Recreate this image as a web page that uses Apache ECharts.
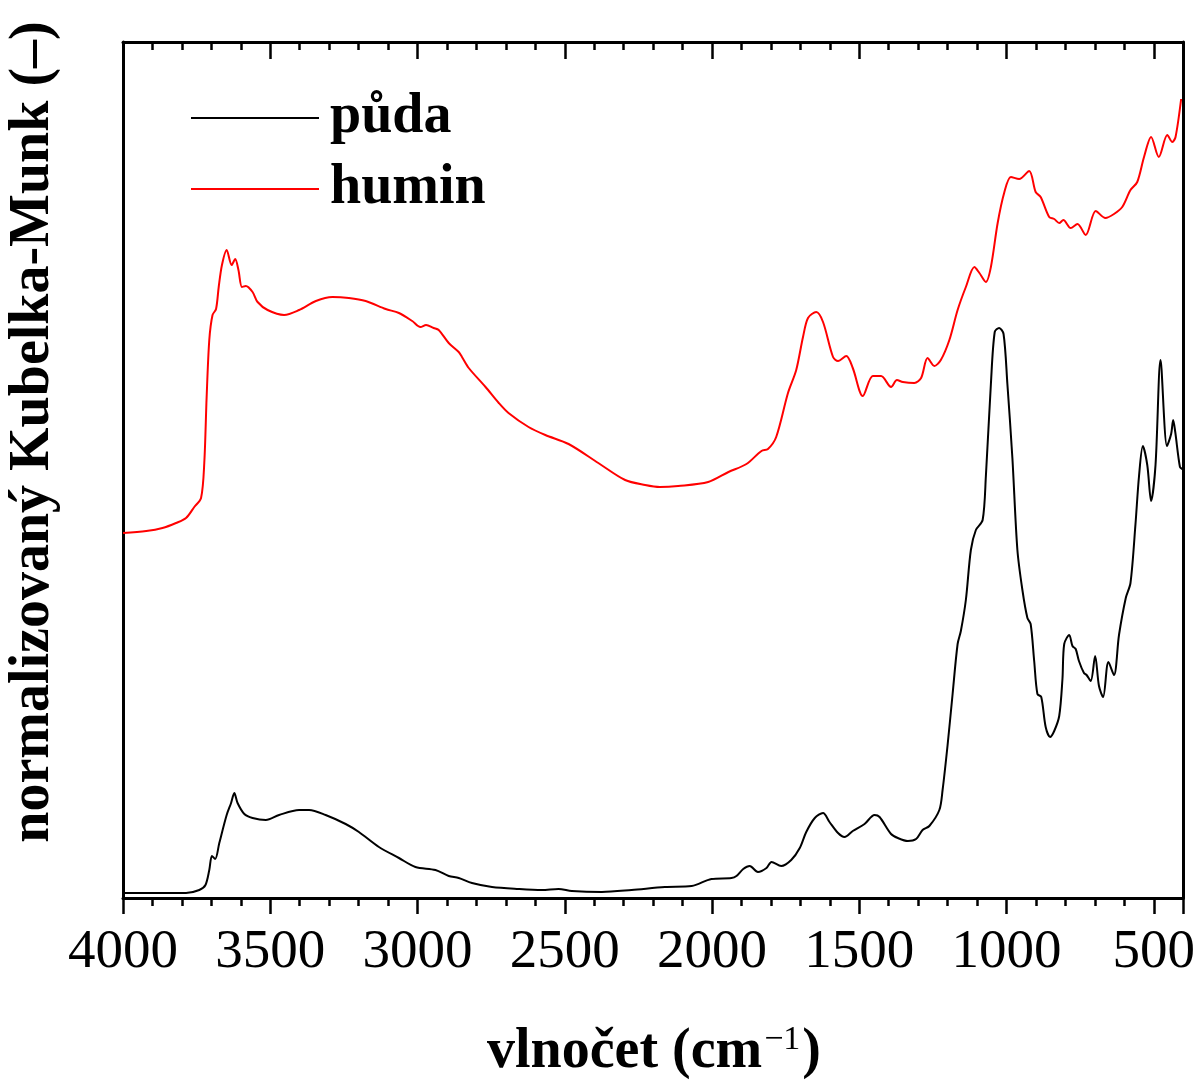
<!DOCTYPE html>
<html>
<head>
<meta charset="utf-8">
<script src="https://cdn.jsdelivr.net/npm/echarts@6/dist/echarts.min.js"></script>
<style>
html,body{margin:0;padding:0;background:#fff;}
#chart{width:1198px;height:1082px;}
</style>
</head>
<body>
<div id="chart"></div>
<script>
// wavenumbers (cm^-1) and normalized Kubelka-Munk values (arbitrary units)
const wnPuda = [3995,3786,3741,3720,3707,3698,3687,3673,3648,3633,3622,3611,3588,3560,3515,3470,3402,3368,3312,3244,3199,3131,3063,3007,2939,2894,2860,2815,2747,2657,2578,2521,2476,2374,2273,2160,2069,2002,1934,1917,1894,1872,1844,1815,1798,1765,1731,1702,1680,1651,1623,1601,1572,1550,1522,1482,1448,1431,1392,1369,1335,1307,1285,1262,1228,1217,1200,1183,1166,1155,1138,1121,1104,1081,1070,1053,1040,1025,1010,997,980,963,946,929,918,906,895,882,867,852,838,821,810,804,787,776,765,754,737,728,714,699,686,672,654,635,618,595,579,562,550,537,522,509,494,477,455,441,434,427,411,403];
const valPuda = [5,5,8,13,28,42,39,55,83,95,105,95,84,80,78,83,88,88,83,74,66,51,40,31,28,22,20,15,11,9,8,9,7,6,8,11,12,19,20,22,29,32,26,30,36,32,38,50,66,80,85,76,65,61,67,74,83,81,64,60,57,59,68,72,88,108,153,204,254,267,298,348,368,378,422,514,566,570,564,514,440,348,308,280,274,237,204,201,171,161,167,182,219,254,263,252,249,237,225,223,217,242,212,201,236,223,263,300,315,374,422,452,433,397,433,538,452,464,478,466,431,429];

const wnHumin = [4000,3921,3866,3820,3786,3758,3735,3724,3716,3707,3696,3684,3675,3664,3648,3631,3619,3608,3596,3583,3560,3543,3509,3453,3402,3345,3289,3233,3176,3108,3063,3018,2990,2971,2945,2928,2894,2860,2849,2826,2769,2724,2691,2623,2566,2487,2386,2295,2227,2177,2115,2013,1944,1883,1832,1810,1782,1742,1714,1691,1674,1646,1623,1589,1572,1544,1522,1488,1454,1426,1392,1372,1352,1313,1290,1268,1245,1223,1194,1166,1138,1109,1092,1070,1053,1030,1008,985,957,923,901,884,855,838,821,807,782,759,731,697,664,635,607,579,556,533,509,483,454,437,426,407];
const valHumin = [365,367,370,375,380,391,400,435,501,558,583,589,611,633,648,633,639,628,611,612,606,596,588,583,588,597,601,600,597,589,585,577,571,573,570,568,555,546,541,530,511,495,485,471,463,454,435,418,413,411,412,416,426,434,447,449,461,505,528,561,580,586,576,541,537,542,530,502,522,522,511,518,516,515,520,540,532,538,558,588,611,631,625,616,631,675,705,721,719,727,706,701,681,679,675,678,670,674,663,687,680,684,691,708,716,741,761,741,763,756,761,799];

const seriesNames = ['půda', 'humin'];
const seriesColors = ['#000000', '#ff0000'];

// axis runs from 4000 (left) to 400 (right); plotted as negative wavenumber so ticks start at -4000
const toPairs = (wn, v) => wn.map((w, i) => [-w, v[i]]);

const serif = '"Liberation Serif", "Times New Roman", serif';
const chart = echarts.init(document.getElementById('chart'), null, {renderer: 'canvas'});

const xBase = {
  type: 'value', min: -4000, max: -400, interval: 500,
  splitLine: {show: false},
  axisLine: {show: true, onZero: false, lineStyle: {color: '#000', width: 3}},
  minorTick: {show: true, splitNumber: 5, length: 8, lineStyle: {color: '#000', width: 2.5}},
  minorSplitLine: {show: false}
};

chart.setOption({
  animation: false,
  backgroundColor: '#fff',
  grid: {left: 123, right: 12, top: 42, bottom: 184, containLabel: false},
  legend: {
    orient: 'vertical', left: 186, top: 85,
    itemWidth: 128, itemHeight: 2, itemGap: 15, icon: 'rect',
    data: seriesNames,
    textStyle: {fontFamily: serif, fontSize: 56, fontWeight: 'bold', color: '#000', lineHeight: 56, padding: [0, 0, 0, 6]}
  },
  xAxis: [
    Object.assign({}, xBase, {
      position: 'bottom',
      axisTick: {show: true, inside: false, length: 16, lineStyle: {color: '#000', width: 2.5}},
      axisLabel: {show: true, margin: 27, fontFamily: serif, fontSize: 55, color: '#000',
        formatter: v => String(-v)}
    }),
    Object.assign({}, xBase, {
      position: 'top',
      minorTick: {show: true, splitNumber: 5, length: 8, lineStyle: {color: '#000', width: 2.5}},
      axisTick: {show: true, inside: true, length: 17, lineStyle: {color: '#000', width: 2.5}},
      axisLabel: {show: false}
    })
  ],
  yAxis: [
    {type: 'value', position: 'left', min: 0, max: 856, splitLine: {show: false},
      axisLine: {show: true, onZero: false, lineStyle: {color: '#000', width: 3}},
      axisTick: {show: false}, axisLabel: {show: false}},
    {type: 'value', position: 'right', min: 0, max: 856, splitLine: {show: false},
      axisLine: {show: true, onZero: false, lineStyle: {color: '#000', width: 3}},
      axisTick: {show: false}, axisLabel: {show: false}}
  ],
  graphic: [
    {type: 'text', x: 34, y: 432, rotation: Math.PI / 2,
      style: {text: 'normalizovaný Kubelka-Munk (–)', font: 'bold 56px ' + serif, fill: '#000',
        align: 'center', verticalAlign: 'middle'}},
    {type: 'text', x: 654, y: 1053,
      style: {text: '{a|vlnočet (cm}{s|−1}{a|)}', fill: '#000', align: 'center', verticalAlign: 'middle',
        rich: {
          a: {fontFamily: serif, fontSize: 56, fontWeight: 'bold', fill: '#000', lineHeight: 60},
          s: {fontFamily: serif, fontSize: 34, fill: '#000', verticalAlign: 'top', lineHeight: 60, padding: [0, 2, 28, 2]}
        }}}
  ],
  series: [
    {name: seriesNames[0], type: 'line', xAxisIndex: 0, yAxisIndex: 0, data: toPairs(wnPuda, valPuda),
      symbol: 'none', smooth: 0.3, lineStyle: {color: seriesColors[0], width: 2}, itemStyle: {color: seriesColors[0]}},
    {name: seriesNames[1], type: 'line', xAxisIndex: 0, yAxisIndex: 0, data: toPairs(wnHumin, valHumin),
      symbol: 'none', smooth: 0.3, lineStyle: {color: seriesColors[1], width: 2}, itemStyle: {color: seriesColors[1]}}
  ]
});
</script>
</body>
</html>
